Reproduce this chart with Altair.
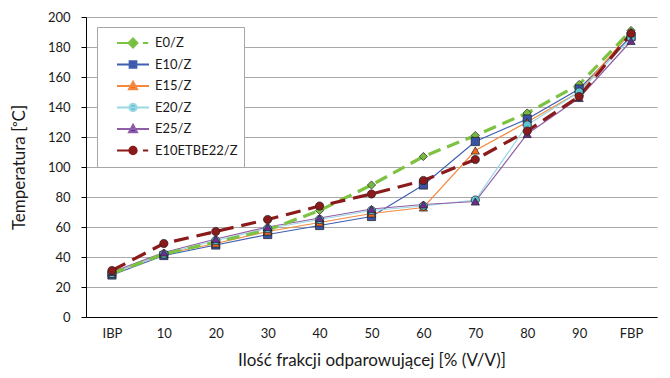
import altair as alt
import pandas as pd

categories = ["IBP", "10", "20", "30", "40", "50", "60", "70", "80", "90", "FBP"]
series_names = ["E0/Z", "E10/Z", "E15/Z", "E20/Z", "E25/Z", "E10ETBE22/Z"]

e0 = [29, 42, 50, 58, 71, 88, 107, 121, 136, 155, 191]
e10 = [28, 41, 48, 55, 61, 67, 88, 117, 132, 152, 187]
e15 = [29, 42, 49, 57, 63, 69, 73, 111, 130, 150, 190]
e20 = [29, 42, 51, 59, 65, 71, 74, 78, 128, 150, 186]
e25 = [30, 43, 52, 60, 66, 72, 75, 77, 122, 146, 184]
e10etbe22 = [31, 49, 57, 65, 74, 82, 91, 105, 124, 147, 189]
series_values = [e0, e10, e15, e20, e25, e10etbe22]

line_colors = ["#7DC242", "#3F5FAF", "#F58A3F", "#9AD8E4", "#8E5FA8", "#8B1A1A"]
marker_fills = ["#77B843", "#3953A4", "#F26A1F", "#5EC3D2", "#6B2D8E", "#8B1A1A"]
marker_shapes = ["diamond", "square", "triangle-up", "circle", "triangle-up", "circle"]
dashed_series = ["E0/Z", "E10ETBE22/Z"]
solid_series = ["E10/Z", "E15/Z", "E20/Z", "E25/Z"]
dash_patterns = [[13, 7], [1, 0], [1, 0], [1, 0], [1, 0], [15, 8]]

# legend symbols: line + marker drawn as custom paths in the [-1, 1] box
legend_paths = [
    "M-1,0H0M0.62,0H0.95M0,-0.28L0.28,0L0,0.28L-0.28,0Z",
    "M-1,0H1M-0.21,-0.21H0.21V0.21H-0.21Z",
    "M-1,0H1M0,-0.26L0.25,0.21H-0.25Z",
    "M-1,0H1M-0.23,0A0.23,0.23 0 1,0 0.23,0A0.23,0.23 0 1,0 -0.23,0Z",
    "M-1,0H1M0,-0.26L0.25,0.21H-0.25Z",
    "M-1,0H0M0.62,0H0.95M-0.23,0A0.23,0.23 0 1,0 0.23,0A0.23,0.23 0 1,0 -0.23,0Z",
]

rows = []
for s, vals in zip(series_names, series_values):
    for i, (c, v) in enumerate(zip(categories, vals)):
        rows.append({"series": s, "cat": c, "idx": i, "v": v})
df = pd.DataFrame(rows)

FONT = "Lato"

x_enc = alt.X(
    "cat:N",
    sort=categories,
    scale=alt.Scale(type="point", padding=0.5),
    axis=alt.Axis(
        title="Ilość frakcji odparowującej [% (V/V)]",
        labelAngle=0,
        ticks=False,
        grid=False,
        domainColor="#000000",
        labelPadding=10,
        titleFontSize=17,
        titleFontWeight="normal",
        titleY=43,
        titleBaseline="middle",
    ),
)
y_enc = alt.Y(
    "v:Q",
    scale=alt.Scale(domain=[0, 200], nice=False),
    axis=alt.Axis(
        title="Temperatura [ᵒC]",
        values=list(range(0, 201, 20)),
        grid=True,
        gridColor="#A9A9A9",
        gridWidth=1,
        tickColor="#000000",
        tickSize=5,
        domainColor="#000000",
        labelPadding=11,
        titleFontSize=17,
        titleFontWeight="normal",
        titleX=-67,
        titleY=150,
        titleAngle=270,
        titleAlign="center",
        titleBaseline="middle",
    ),
)

stroke_scale = alt.Scale(domain=series_names, range=line_colors)

solid_lines = alt.Chart(df).transform_filter(
    alt.FieldOneOfPredicate(field="series", oneOf=solid_series)
).mark_line(strokeWidth=1.2).encode(
    x=x_enc,
    y=y_enc,
    order=alt.Order("idx:Q"),
    stroke=alt.Stroke("series:N", scale=stroke_scale, legend=None),
)

dashed_lines = alt.Chart(df).transform_filter(
    alt.FieldOneOfPredicate(field="series", oneOf=dashed_series)
).mark_line(strokeWidth=3.2, strokeCap="butt").encode(
    x=x_enc,
    y=y_enc,
    order=alt.Order("idx:Q"),
    stroke=alt.Stroke("series:N", scale=stroke_scale, legend=None),
    strokeDash=alt.StrokeDash("series:N", scale=alt.Scale(domain=series_names, range=dash_patterns), legend=None),
)

points = alt.Chart(df).mark_point(filled=True, size=68, stroke="#1E1E1E", strokeWidth=0.7, opacity=1).encode(
    x=x_enc,
    y=y_enc,
    fill=alt.Fill("series:N", scale=alt.Scale(domain=series_names, range=marker_fills), legend=None),
    shape=alt.Shape("series:N", scale=alt.Scale(domain=series_names, range=marker_shapes), legend=None),
)

legend_layer = alt.Chart(df).transform_filter("false").mark_point(
    filled=True, size=1024, strokeWidth=2, opacity=1
).encode(
    x=x_enc,
    y=y_enc,
    fill=alt.Fill("series:N", scale=alt.Scale(domain=series_names, range=marker_fills), legend=alt.Legend(title=None)),
    stroke=alt.Stroke("series:N", scale=stroke_scale, legend=alt.Legend(title=None)),
    shape=alt.Shape("series:N", scale=alt.Scale(domain=series_names, range=legend_paths), legend=alt.Legend(title=None)),
)

chart = alt.layer(solid_lines, dashed_lines, points, legend_layer).resolve_scale(
    fill="independent", stroke="independent", shape="independent",
    strokeDash="independent",
).properties(
    width=571,
    height=300,
    autosize=alt.AutoSizeParams(type="none"),
    padding={"left": 78, "top": 9, "right": 3, "bottom": 53},
).configure(
    font=FONT,
).configure_view(
    stroke=None,
).configure_axis(
    labelFont=FONT,
    titleFont=FONT,
    labelFontSize=13,
    labelColor="#1A1A1A",
    titleColor="#1A1A1A",
).configure_legend(
    orient="none",
    legendX=11,
    legendY=10,
    padding=6,
    clipHeight=20,
    rowPadding=1.5,
    symbolSize=1024,
    symbolStrokeWidth=2,
    symbolOffset=13,
    labelOffset=5,
    labelFont=FONT,
    labelFontSize=13,
    labelColor="#1A1A1A",
    fillColor="white",
    strokeColor="#A6A6A6",
    cornerRadius=0,
)

chart.save("out.html", embed_options={"renderer": "svg", "actions": False})
